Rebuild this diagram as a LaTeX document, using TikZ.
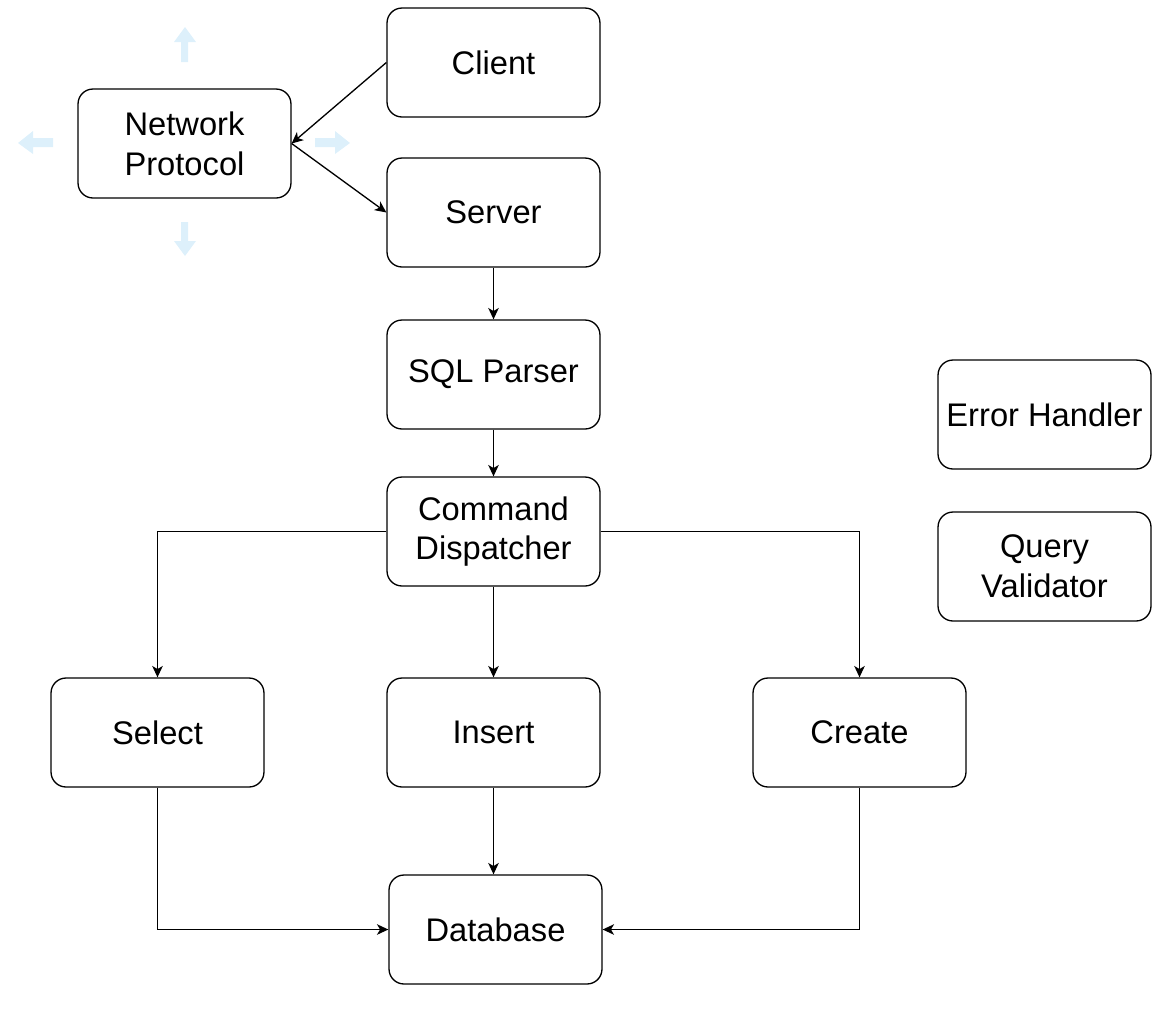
\documentclass[tikz,border=0pt]{standalone}
\usepackage{fontspec}
\setmainfont{Liberation Sans}
\usetikzlibrary{arrows.meta}
\definecolor{hoverblue}{HTML}{DDF0FB}

\begin{document}
\begin{tikzpicture}[x=0.02cm, y=-0.02cm, >={Stealth[length=6.5pt, width=6pt, inset=1.8pt]}]

    \useasboundingbox (0,0) rectangle (1169,1008);

    % hover arrows round the protocol box
    \begin{scope}[fill=hoverblue]
        \fill (181,62) -- (181,42) -- (174,42) -- (185,27) -- (196,42) -- (188,42) -- (188,62) -- cycle;
        \fill (181,222) -- (181,241) -- (174,241) -- (185,256) -- (196,241) -- (188,241) -- (188,222) -- cycle;
        \fill (53,138) -- (33,138) -- (33,131) -- (18,143) -- (33,154) -- (33,147) -- (53,147) -- cycle;
        \fill (315,138) -- (335,138) -- (335,131) -- (350,143) -- (335,154) -- (335,147) -- (315,147) -- cycle;
    \end{scope}

    \begin{scope}[every node/.style={draw, fill=white, line width=0.75pt, rounded corners=0.3cm, minimum width=4.26cm, minimum height=2.18cm, align=center, inner sep=0pt, font=\fontsize{18.6}{22.7}\selectfont}]
        \node (client) at (493.5,62.5) {Client};
        \node (netp) at (184.5,143.5) {Network\\Protocol};
        \node (server) at (493.5,212.5) {Server};
        \node (parser) at (493.5,374.5) {SQL Parser};
        \node (disp) at (493.5,531.5) {Command\\Dispatcher};
        \node (errh) at (1044.5,414.5) {Error Handler};
        \node (qval) at (1044.5,566.5) {Query\\Validator};
        \node (select) at (157.5,732.5) {Select};
        \node (insert) at (493.5,732.5) {Insert};
        \node (create) at (859.5,732.5) {Create};
        \node (db) at (495.5,929.5) {Database};
    \end{scope}

    \begin{scope}[every edge/.style={draw, line width=0.75pt}]
        \path [->] (client.west) edge (netp.east);
        \path [->] (netp.east) edge (server.west);
        \path [->] (server) edge (parser);
        \path [->] (parser) edge (disp);
        \path [->] (disp) edge (insert);
        \path [->] (insert.south) edge (insert.south |- db.north);
    \end{scope}

    \begin{scope}[line width=0.75pt]
        \draw [->] (disp.west) -| (select.north);
        \draw [->] (disp.east) -| (create.north);
        \draw [->] (select.south) |- (db.west);
        \draw [->] (create.south) |- (db.east);
    \end{scope}

\end{tikzpicture}
\end{document}
